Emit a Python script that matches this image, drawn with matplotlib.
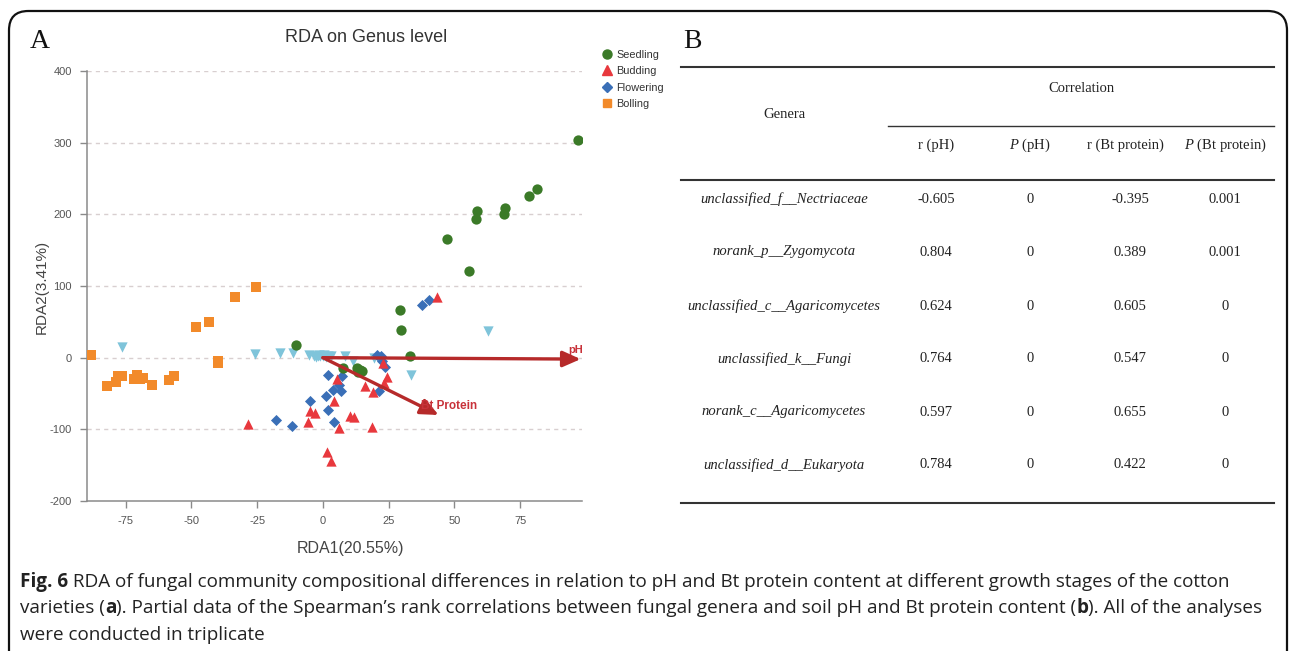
import matplotlib
matplotlib.use("Agg")
import matplotlib.pyplot as plt
from matplotlib.lines import Line2D
from matplotlib.patches import FancyBboxPatch

plt.rcParams["mathtext.fontset"] = "custom"
plt.rcParams["mathtext.it"] = "Liberation Serif:italic"
plt.rcParams["mathtext.rm"] = "Liberation Serif"

# ---------------- data ----------------
seedling_x = [97, 81.4, 78.3, 69.2, 68.8, 58.6, 58.2, 47.1, 55.5, 29.3, 29.7, 33, -10.3, 7.6, 13, 15, 13.5, 14]
seedling_y = [304, 236, 225, 209, 201, 204, 194, 166, 121, 66, 39, 3, 17, -15, -15, -19, -20, -17]

budding_x = [43.3, -28.4, -4.9, -3.2, -5.8, 4.2, 5.2, 6.2, 10.3, 11.8, 16, 19.1, 18.5, 24.2, 23.2, 22.7, 1.4, 3]
budding_y = [84, -93, -75, -77, -90, -60, -30, -98, -81, -83, -40, -48, -97, -27, -36, -7, -131, -144]

flowering_x = [37.5, 40.2, -17.9, -11.9, -4.9, 2, 7.3, 3.9, 6.2, 6.8, 1.1, 1.8, 4.2, 21.4, 23.6, 20.4, 21.9, 22.5]
flowering_y = [74, 80, -87, -96, -61, -24, -26, -45, -38, -47, -54, -73, -90, -47, -13, 4, 3, -5]

bolling_x = [-88, -82, -78.7, -77.8, -76.5, -71.9, -70.5, -69.6, -68.3, -65.1, -58.6, -56.6, -39.8, -39.8,
             -48.3, -43.3, -33.5, -25.5]
bolling_y = [4, -40, -34.5, -26, -26, -30, -24, -30, -28, -38, -31, -25, -4, -8,
             43, 50, 84, 98]

other_x = [-76.3, -25.7, -16.5, -11.3, -5.3, -3.5, -2, -1, 0, 1, 2, 3, -2.5, -1.5, 0.5, 8.4, 11.5, 19.4, 33.5, 62.9]
other_y = [15, 5, 6.5, 6, 4, 3, 2, 3, 2, 1, 2, 3, 1, 4, 4, 2, -5, -1, -24, 37]

ph_vector = (98, -2)
bt_vector = (44, -80)

x_ticks = [-75, -50, -25, 0, 25, 50, 75]
y_ticks = [-200, -100, 0, 100, 200, 300, 400]

genera = ["unclassified_f__Nectriaceae", "norank_p__Zygomycota", "unclassified_c__Agaricomycetes",
          "unclassified_k__Fungi", "norank_c__Agaricomycetes", "unclassified_d__Eukaryota"]
r_ph = ["-0.605", "0.804", "0.624", "0.764", "0.597", "0.784"]
p_ph = ["0", "0", "0", "0", "0", "0"]
r_bt = ["-0.395", "0.389", "0.605", "0.547", "0.655", "0.422"]
p_bt = ["0.001", "0.001", "0", "0", "0", "0"]
col_headers = ["r (pH)", "$P$ (pH)", "r (Bt protein)", "$P$ (Bt protein)"]

# ---------------- figure ----------------
W, H = 1290, 651
fig = plt.figure(figsize=(W / 100, H / 100), dpi=100)

def fx(x):
    return x / W

def fy(y):
    return 1 - y / H

NARROW = ["Liberation Sans Narrow", "Liberation Sans", "DejaVu Sans"]
SERIF = ["Liberation Serif", "DejaVu Serif"]

# outer rounded frame
frame = FancyBboxPatch((fx(9), fy(700)), fx(1278), (700 - 11) / H,
                       boxstyle="round,pad=0,rounding_size=0.015",
                       transform=fig.transFigure, fill=False, ec="#111111", lw=1.6,
                       mutation_aspect=W / H)
fig.add_artist(frame)

# ---------------- panel A ----------------
ax = fig.add_axes([fx(87), fy(501), (582 - 87) / W, (501 - 71) / H])
ax.set_xlim(-89.7, 98.5)
ax.set_ylim(-200, 400)

for yv in y_ticks[1:]:
    ax.axhline(yv, color="#d8cfd0", lw=1, ls=(0, (3, 3)), zorder=0)

ms = 55
ax.scatter(other_x, other_y, marker="v", s=ms, color="#7fc4da", zorder=3, linewidths=0)
ax.scatter(bolling_x, bolling_y, marker="s", s=ms, color="#f28a2a", zorder=3, linewidths=0)
ax.scatter(flowering_x, flowering_y, marker="D", s=32, color="#3a6fb7", zorder=3, linewidths=0)
ax.scatter(budding_x, budding_y, marker="^", s=ms, color="#e8383d", zorder=3, linewidths=0)
ax.scatter(seedling_x, seedling_y, marker="o", s=ms, color="#3b7a28", zorder=3, linewidths=0)

arrow_col = "#b62a2a"
for vec in (ph_vector, bt_vector):
    ax.annotate("", xy=vec, xytext=(0, 0),
                arrowprops=dict(arrowstyle="-|>,head_length=0.9,head_width=0.4",
                                color=arrow_col, lw=2.4, shrinkA=0, shrinkB=0,
                                mutation_scale=12),
                zorder=4)
ax.text(99, 4, "pH", color="#c8323a", fontsize=8, fontweight="bold", family=NARROW,
        ha="right", va="bottom", zorder=5)
ax.text(48, -68, "Bt Protein", color="#c8323a", fontsize=8.5, fontweight="bold", family=NARROW,
        ha="center", va="center", zorder=5)

for s in ("top", "right"):
    ax.spines[s].set_visible(False)
for s in ("left", "bottom"):
    ax.spines[s].set_color("#8a8a8a")
    ax.spines[s].set_linewidth(1.1)
ax.set_xticks(x_ticks)
ax.set_yticks(y_ticks)
ax.set_xticklabels([str(v) for v in x_ticks], family=NARROW, fontsize=8, color="#555555")
ax.set_yticklabels([str(v) for v in y_ticks], family=NARROW, fontsize=8, color="#555555")
ax.tick_params(axis="both", length=5, width=1, color="#8a8a8a", pad=6)
ax.set_facecolor("none")

fig.text(fx(366), fy(37), "RDA on Genus level", family=NARROW, fontsize=13, color="#333333",
         ha="center", va="center")
fig.text(fx(350), fy(548), "RDA1(20.55%)", family=NARROW, fontsize=11.5, color="#444444",
         ha="center", va="center")
fig.text(fx(42), fy(287), "RDA2(3.41%)", family=["Liberation Sans", "DejaVu Sans"], fontsize=11,
         color="#444444", ha="center", va="center", rotation=90)

handles = [
    Line2D([], [], ls="", marker="o", color="#3b7a28", markersize=6.5),
    Line2D([], [], ls="", marker="^", color="#e8383d", markersize=6.5),
    Line2D([], [], ls="", marker="D", color="#3a6fb7", markersize=5),
    Line2D([], [], ls="", marker="s", color="#f28a2a", markersize=6),
]
fig.legend(handles, ["Seedling", "Budding", "Flowering", "Bolling"], loc="upper left",
           bbox_to_anchor=(fx(603), fy(50)), frameon=False, prop={"family": NARROW, "size": 7.8},
           handlelength=0.8, handletextpad=0.45, labelspacing=0.58, borderpad=0, borderaxespad=0,
           labelcolor="#333333")

fig.text(fx(40), fy(41), "A", family=SERIF, fontsize=20, color="#111111", ha="center", va="center")
fig.text(fx(692), fy(41), "B", family=SERIF, fontsize=20, color="#111111", ha="center", va="center")

# ---------------- panel B (table) ----------------
def hline(x0, x1, y, lw):
    fig.add_artist(Line2D([fx(x0), fx(x1)], [fy(y), fy(y)], transform=fig.transFigure,
                          color="#333333", lw=lw))

hline(681, 1274, 67, 1.5)
hline(888, 1274, 126, 1.0)
hline(681, 1274, 180, 1.5)
hline(681, 1274, 503, 1.5)

tfs = 10.5
fig.text(fx(1081), fy(88), "Correlation", family=SERIF, fontsize=tfs, color="#222222", ha="center", va="center")
fig.text(fx(784), fy(115), "Genera", family=SERIF, fontsize=tfs, color="#222222", ha="center", va="center")
col_x = [936, 1030, 1125, 1225]
for cx, h in zip(col_x, col_headers):
    fig.text(fx(cx), fy(145), h, family=SERIF, fontsize=tfs, color="#222222", ha="center", va="center")

row_y = [199, 252, 306, 359, 412, 465]
for i, ry in enumerate(row_y):
    fig.text(fx(784), fy(ry), genera[i], family=SERIF, style="italic", fontsize=tfs,
             color="#222222", ha="center", va="center")
    for cx, col in zip([936, 1030, 1130, 1225], (r_ph, p_ph, r_bt, p_bt)):
        fig.text(fx(cx), fy(ry), col[i], family=SERIF, fontsize=tfs, color="#222222",
                 ha="center", va="center")

# ---------------- caption ----------------
CAP = ["Open Sans", "DejaVu Sans"]
renderer = fig.canvas.get_renderer()

line1 = [("Fig. 6", "bold"), (" RDA of fungal community compositional differences in relation to pH and Bt protein content at different growth stages of the cotton", "normal")]
line2 = [("varieties (", "normal"), ("a", "bold"),
         ("). Partial data of the Spearman\u2019s rank correlations between fungal genera and soil pH and Bt protein content (", "normal"),
         ("b", "bold"), ("). All of the analyses", "normal")]
line3 = [("were conducted in triplicate", "normal")]

def measure(pieces, size):
    tot = 0
    for txt, wt in pieces:
        t = fig.text(0, 0, txt, family=CAP, fontsize=size, fontweight=wt)
        tot += t.get_window_extent(renderer).width
        t.remove()
    return tot

base = 12
w1 = measure(line1, base)
w2 = measure(line2, base)
cap_size = min(base * (1258 - 20) / w1, base * (1258 - 20) / w2)

def draw_line(pieces, x0, ybase):
    x = x0
    for txt, wt in pieces:
        t = fig.text(fx(x), fy(ybase), txt, family=CAP, fontsize=cap_size, fontweight=wt,
                     color="#222222", ha="left", va="baseline")
        x += t.get_window_extent(renderer).width

draw_line(line1, 20, 587)
draw_line(line2, 20, 613)
draw_line(line3, 20, 640)

fig.savefig("out.png", dpi=100)
